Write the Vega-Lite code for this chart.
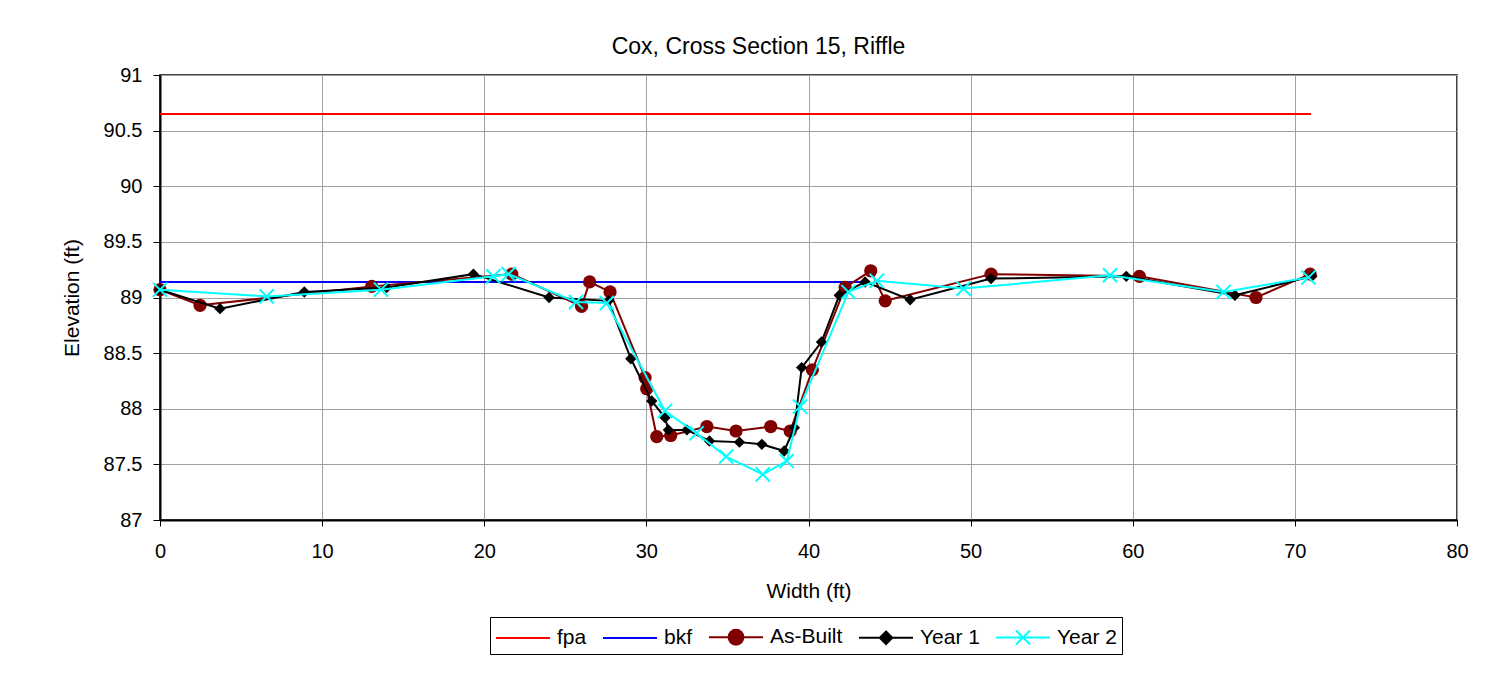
{
  "$schema": "https://vega.github.io/schema/vega-lite/v6.json",
  "width": 1297,
  "height": 445,
  "autosize": "none",
  "padding": {"left": 160, "top": 75, "right": 39, "bottom": 160},
  "background": "white",
  "config": {
    "font": "Liberation Sans",
    "view": {"stroke": "black", "strokeWidth": 1.5},
    "axis": {"labelColor": "black", "titleColor": "black", "titleFontWeight": "normal", "labelFont": "Liberation Sans", "titleFont": "Liberation Sans"},
    "title": {"font": "Liberation Sans", "fontWeight": "normal", "color": "black"},
    "legend": {"labelFont": "Liberation Sans", "labelColor": "black"}
  },
  "title": {"text": "Cox, Cross Section 15, Riffle", "fontSize": 23, "offset": 6, "dx": -50},
  "data": {
    "values": [
      {"series": "fpa", "x": 0, "y": 90.65},
      {"series": "fpa", "x": 71, "y": 90.65},
      {"series": "bkf", "x": 0, "y": 89.14},
      {"series": "bkf", "x": 43.3, "y": 89.14},
      {"series": "As-Built", "x": 0, "y": 89.07},
      {"series": "As-Built", "x": 2.47, "y": 88.93},
      {"series": "As-Built", "x": 13.06, "y": 89.1},
      {"series": "As-Built", "x": 21.7, "y": 89.21},
      {"series": "As-Built", "x": 26.0, "y": 88.92},
      {"series": "As-Built", "x": 26.5, "y": 89.14},
      {"series": "As-Built", "x": 27.76, "y": 89.05},
      {"series": "As-Built", "x": 29.92, "y": 88.28},
      {"series": "As-Built", "x": 30.02, "y": 88.18},
      {"series": "As-Built", "x": 30.64, "y": 87.75},
      {"series": "As-Built", "x": 31.5, "y": 87.76},
      {"series": "As-Built", "x": 33.73, "y": 87.84},
      {"series": "As-Built", "x": 35.53, "y": 87.8},
      {"series": "As-Built", "x": 37.67, "y": 87.84},
      {"series": "As-Built", "x": 38.87, "y": 87.8},
      {"series": "As-Built", "x": 40.24, "y": 88.35},
      {"series": "As-Built", "x": 42.26, "y": 89.09},
      {"series": "As-Built", "x": 43.84, "y": 89.24},
      {"series": "As-Built", "x": 44.73, "y": 88.97},
      {"series": "As-Built", "x": 51.26, "y": 89.21},
      {"series": "As-Built", "x": 60.41, "y": 89.19},
      {"series": "As-Built", "x": 67.6, "y": 89.0},
      {"series": "As-Built", "x": 70.94, "y": 89.21},
      {"series": "Year 1", "x": 0, "y": 89.07},
      {"series": "Year 1", "x": 3.7, "y": 88.9},
      {"series": "Year 1", "x": 8.9, "y": 89.05},
      {"series": "Year 1", "x": 13.98, "y": 89.09},
      {"series": "Year 1", "x": 19.33, "y": 89.21},
      {"series": "Year 1", "x": 24.0, "y": 89.0},
      {"series": "Year 1", "x": 27.66, "y": 88.97},
      {"series": "Year 1", "x": 29.04, "y": 88.45},
      {"series": "Year 1", "x": 30.33, "y": 88.07},
      {"series": "Year 1", "x": 31.15, "y": 87.92},
      {"series": "Year 1", "x": 31.36, "y": 87.81},
      {"series": "Year 1", "x": 32.5, "y": 87.81},
      {"series": "Year 1", "x": 33.89, "y": 87.71},
      {"series": "Year 1", "x": 35.74, "y": 87.7},
      {"series": "Year 1", "x": 37.12, "y": 87.68},
      {"series": "Year 1", "x": 38.5, "y": 87.62},
      {"series": "Year 1", "x": 39.13, "y": 87.83},
      {"series": "Year 1", "x": 39.58, "y": 88.37},
      {"series": "Year 1", "x": 40.8, "y": 88.6},
      {"series": "Year 1", "x": 41.9, "y": 89.02},
      {"series": "Year 1", "x": 43.49, "y": 89.14},
      {"series": "Year 1", "x": 46.27, "y": 88.98},
      {"series": "Year 1", "x": 51.26, "y": 89.17},
      {"series": "Year 1", "x": 59.6, "y": 89.19},
      {"series": "Year 1", "x": 66.3, "y": 89.02},
      {"series": "Year 1", "x": 71.05, "y": 89.19},
      {"series": "Year 2", "x": 0, "y": 89.07},
      {"series": "Year 2", "x": 6.58, "y": 89.01},
      {"series": "Year 2", "x": 13.63, "y": 89.07},
      {"series": "Year 2", "x": 20.56, "y": 89.19},
      {"series": "Year 2", "x": 21.5, "y": 89.21},
      {"series": "Year 2", "x": 25.66, "y": 88.96},
      {"series": "Year 2", "x": 27.56, "y": 88.95},
      {"series": "Year 2", "x": 31.15, "y": 87.98},
      {"series": "Year 2", "x": 33.1, "y": 87.78},
      {"series": "Year 2", "x": 34.92, "y": 87.57},
      {"series": "Year 2", "x": 37.18, "y": 87.41},
      {"series": "Year 2", "x": 38.66, "y": 87.53},
      {"series": "Year 2", "x": 39.48, "y": 88.02},
      {"series": "Year 2", "x": 42.46, "y": 89.05},
      {"series": "Year 2", "x": 44.21, "y": 89.15},
      {"series": "Year 2", "x": 49.56, "y": 89.08},
      {"series": "Year 2", "x": 58.6, "y": 89.2},
      {"series": "Year 2", "x": 65.6, "y": 89.05},
      {"series": "Year 2", "x": 70.84, "y": 89.18}
    ]
  },
  "encoding": {
    "x": {
      "field": "x", "type": "quantitative",
      "scale": {"domain": [0, 80], "nice": false, "zero": false},
      "axis": {
        "title": "Width (ft)", "values": [0, 10, 20, 30, 40, 50, 60, 70, 80],
        "grid": true, "gridColor": "#a0a0a0", "gridWidth": 1,
        "domainColor": "black", "domainWidth": 2,
        "tickColor": "black", "tickSize": 6, "tickWidth": 1,
        "labelFontSize": 20, "labelPadding": 15, "labelFlush": false,
        "titleFontSize": 21, "titlePadding": 19
      }
    },
    "y": {
      "field": "y", "type": "quantitative",
      "scale": {"domain": [87, 91], "nice": false, "zero": false},
      "axis": {
        "title": "Elevation (ft)", "values": [87, 87.5, 88, 88.5, 89, 89.5, 90, 90.5, 91],
        "format": ".1~f",
        "grid": true, "gridColor": "#a0a0a0", "gridWidth": 1,
        "domainColor": "black", "domainWidth": 2,
        "tickColor": "black", "tickSize": 7, "tickWidth": 1,
        "labelFontSize": 20, "labelPadding": 11, "labelFlush": false,
        "titleFontSize": 21, "titlePadding": 21
      }
    }
  },
  "layer": [
    {"transform": [{"filter": "datum.series === 'fpa'"}], "mark": {"type": "line", "color": "#ff0000", "strokeWidth": 2}},
    {"transform": [{"filter": "datum.series === 'bkf'"}], "mark": {"type": "line", "color": "#0000ff", "strokeWidth": 2}},
    {"transform": [{"filter": "datum.series === 'As-Built'"}], "mark": {"type": "line", "color": "#800000", "strokeWidth": 2}},
    {"transform": [{"filter": "datum.series === 'As-Built'"}], "mark": {"type": "point", "shape": "circle", "filled": true, "color": "#800000", "opacity": 1, "size": 175}},
    {"transform": [{"filter": "datum.series === 'Year 1'"}], "mark": {"type": "line", "color": "#000000", "strokeWidth": 2}},
    {"transform": [{"filter": "datum.series === 'Year 1'"}], "mark": {"type": "point", "shape": "diamond", "filled": true, "color": "#000000", "opacity": 1, "size": 130}},
    {"transform": [{"filter": "datum.series === 'Year 2'"}], "mark": {"type": "line", "color": "#00ffff", "strokeWidth": 2}},
    {"transform": [{"filter": "datum.series === 'Year 2'"}], "mark": {"type": "point", "shape": "M-1,-1L1,1M-1,1L1,-1", "filled": false, "color": "#00ffff", "opacity": 1, "strokeWidth": 2, "size": 200}},
    {
      "mark": {"type": "point", "filled": true, "opacity": 0},
      "encoding": {
        "color": {
          "field": "series", "type": "nominal",
          "scale": {"domain": ["fpa", "bkf", "As-Built", "Year 1", "Year 2"], "range": ["#ff0000", "#0000ff", "#800000", "#000000", "#00ffff"]},
          "legend": {
            "title": null, "orient": "none", "legendX": 330, "legendY": 542,
            "direction": "horizontal", "columns": 5,
            "strokeColor": "black", "fillColor": "white", "padding": 5,
            "labelFontSize": 21, "labelOffset": 32, "columnPadding": 12,
            "symbolSize": 784, "symbolStrokeWidth": 2, "symbolOpacity": 1,
            "encode": {"symbols": {"update": {"fill": {"scale": "color", "field": "value"}, "stroke": {"scale": "color", "field": "value"}, "strokeWidth": {"value": 2}, "opacity": {"value": 1}}}}
          }
        },
        "shape": {
          "field": "series", "type": "nominal",
          "scale": {"domain": ["fpa", "bkf", "As-Built", "Year 1", "Year 2"], "range": [
            "M-1,0H2.857",
            "M-1,0H2.857",
            "M-1,0H2.857M0.4,0A0.53,0.53 0 1,0 1.46,0A0.53,0.53 0 1,0 0.4,0Z",
            "M-1,0H2.857M0.93,-0.45L1.38,0L0.93,0.45L0.48,0Z",
            "M-1,0H2.857M0.43,-0.5L1.43,0.5M0.43,0.5L1.43,-0.5"
          ]},
          "legend": {
            "title": null, "orient": "none", "legendX": 330, "legendY": 542,
            "direction": "horizontal", "columns": 5,
            "strokeColor": "black", "fillColor": "white", "padding": 5,
            "labelFontSize": 21, "labelOffset": 32, "columnPadding": 12,
            "symbolSize": 784, "symbolStrokeWidth": 2, "symbolOpacity": 1
          }
        }
      }
    }
  ]
}
